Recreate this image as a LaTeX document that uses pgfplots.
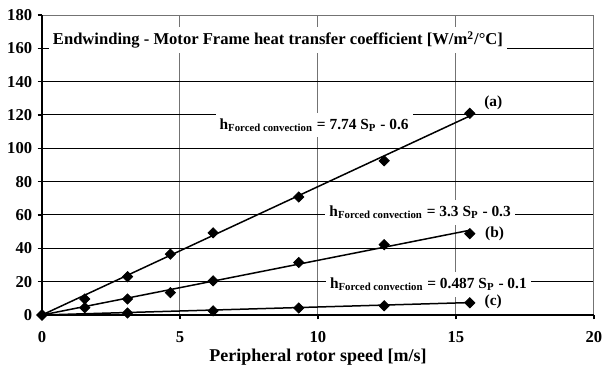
\documentclass[border=0pt]{standalone}
\usepackage{fontspec}
\setmainfont{Liberation Serif}
\usepackage{pgfplots}
\pgfplotsset{compat=1.18}
\begin{document}
\begin{tikzpicture}[font=\bfseries]
\path[use as bounding box] (-21pt,-27.5pt) rectangle (280pt,157.5pt);
\begin{axis}[
 at={(0,0)}, anchor=south west,
 scale only axis, width=276pt, height=150pt,
 xmin=0, xmax=20, ymin=0, ymax=180,
 xtick={0,5,10,15,20}, ytick={0,20,...,180},
 tick align=outside, tick pos=left,
 major tick length=2.2pt,
 xmajorgrids, ymajorgrids,
 x grid style={black!55, line width=0.5pt},
 y grid style={black, line width=0.5pt},
 axis line style={black!55, line width=0.5pt},
 tick style={black, line width=0.6pt},
 /pgf/number format/assume math mode=true,
 ticklabel style={font=\fontsize{8.3}{10}\selectfont\bfseries},
 yticklabel style={xshift=0.8pt},
 xticklabel style={anchor=center, yshift=-9pt},
 xlabel={Peripheral rotor speed [m/s]},
 xlabel style={at={(axis description cs:0.5,0)}, anchor=center, yshift=-21pt, font=\fontsize{9}{10.8}\selectfont\bfseries},
 clip=false,
]
\addplot[black, line width=0.75pt] coordinates {(0,0) (15.5,119.4)};
\addplot[black, line width=0.75pt] coordinates {(0,0) (15.5,50.85)};
\addplot[black, line width=0.75pt] coordinates {(0,0) (15.5,7.45)};
\addplot[only marks, mark=square*, mark size=1.8pt, mark options={rotate=45, fill=black, draw=black}] coordinates {
(0,0) (1.55,9.6) (3.1,23) (4.65,36.5) (6.2,49.3) (9.3,70.8) (12.4,92.5) (15.5,121)};
\addplot[only marks, mark=square*, mark size=1.8pt, mark options={rotate=45, fill=black, draw=black}] coordinates {
(0,0) (1.55,4.4) (3.1,9.6) (4.65,13.4) (6.2,20.5) (9.3,31.5) (12.4,42.2) (15.5,48.8)};
\addplot[only marks, mark=square*, mark size=1.8pt, mark options={rotate=45, fill=black, draw=black}] coordinates {
(0,0) (3.1,1.2) (6.2,2.5) (9.3,4.2) (12.4,5.5) (15.5,7.3)};
\draw[black, line width=1pt] (rel axis cs:0,1) -- (rel axis cs:0,0) -- (rel axis cs:1,0);
\node[fill=white, inner sep=2pt, font=\fontsize{8.3}{10}\selectfont\bfseries] at (axis cs:8.55,165) {Endwinding - Motor Frame heat transfer coefficient [W/m\textsuperscript{2}/°C]};
\node[fill=white, inner xsep=2pt, inner ysep=3pt, font=\fontsize{7.7}{9.2}\selectfont\bfseries] at (axis cs:9.86,114) {h\textsubscript{Forced convection} = 7.74 S\textsubscript{P} - 0.6};
\node[fill=white, inner xsep=2pt, inner ysep=3pt, font=\fontsize{7.7}{9.2}\selectfont\bfseries] at (axis cs:13.7,61.5) {h\textsubscript{Forced convection} = 3.3 S\textsubscript{P} - 0.3};
\node[fill=white, inner xsep=2pt, inner ysep=3pt, font=\fontsize{7.7}{9.2}\selectfont\bfseries] at (axis cs:14.0,18.5) {h\textsubscript{Forced convection} = 0.487 S\textsubscript{P} - 0.1};
\node[font=\fontsize{7.7}{9.2}\selectfont\bfseries] at (axis cs:16.35,127.5) {(a)};
\node[font=\fontsize{7.7}{9.2}\selectfont\bfseries] at (axis cs:16.4,49) {(b)};
\node[font=\fontsize{7.7}{9.2}\selectfont\bfseries] at (axis cs:16.35,7.8) {(c)};
\end{axis}
\end{tikzpicture}
\end{document}
